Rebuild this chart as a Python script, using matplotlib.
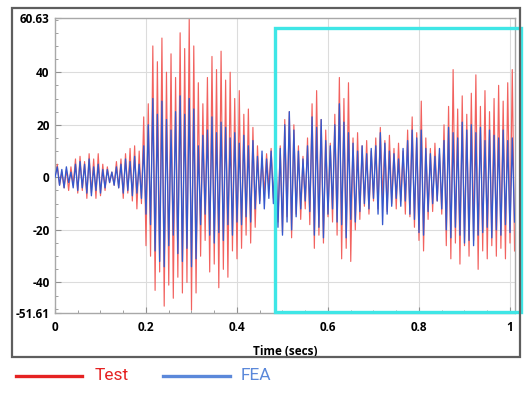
import matplotlib
matplotlib.use("Agg")
import matplotlib.pyplot as plt
import matplotlib.patches as mpatches
from matplotlib.lines import Line2D
from matplotlib.ticker import MultipleLocator
import numpy as np

# ---- data: per-cycle positive / negative peak values (cycle length 0.01 s) ----
test_hi = [5, 2, 3, 4, 7, 8, 6, 9, 7, 9,
           5, 4, 2, 6, 7, 9, 11, 12, 10, 23,
           28, 50, 44, 53, 40, 47, 38, 55, 49, 60.5,
           50, 36, 28, 38, 46, 41, 48, 37, 40, 30,
           33, 24, 26, 19, 12, 7, 9, 11, 8, 12,
           22, 25, 20, 12, 8, 15, 28, 33, 22, 18,
           13, 24, 38, 30, 36, 15, 17, 12, 14, 10,
           15, 19, 14, 16, 11, 13, 10, 18, 23, 17,
           29, 15, 11, 13, 9, 20, 27, 41, 26, 31,
           24, 32, 39, 27, 33, 25, 30, 35, 29, 36, 41]
test_lo = [-3, -4, -5, -3, -6, -5, -8, -6, -8, -7,
           -5, -2, -3, -4, -8, -6, -9, -12, -10, -26,
           -30, -43, -36, -49, -41, -46, -38, -44, -40, -50.5,
           -44, -30, -24, -36, -33, -42, -35, -38, -28, -31,
           -27, -22, -25, -19, -9, -6, -4, -8, -17, -21,
           -15, -23, -14, -16, -12, -18, -27, -22, -25, -15,
           -17, -22, -31, -27, -32, -20, -16, -11, -14, -9,
           -12, -8, -13, -10, -12, -9, -14, -15, -19, -24,
           -28, -16, -13, -9, -14, -26, -31, -25, -33, -26,
           -30, -24, -35, -28, -31, -26, -30, -27, -31, -25, -28]
fea_hi = [4, 3, 4, 2, 5, 6, 5, 7, 4, 5,
          3, 3, 2, 4, 5, 7, 6, 8, 5, 12,
          20, 30, 24, 29, 22, 18, 25, 31, 24, 30,
          26, 12, 16, 18, 23, 17, 21, 19, 15, 17,
          13, 16, 12, 14, 8, 10, 7, 10, 13, 11,
          20, 25, 18, 10, 7, 12, 23, 19, 22, 14,
          12, 20, 28, 21, 17, 13, 10, 12, 9, 11,
          12, 17, 13, 10, 9, 7, 11, 14, 18, 15,
          18, 11, 9, 8, 11, 14, 19, 17, 15, 21,
          18, 20, 17, 19, 14, 18, 16, 15, 18, 14, 15]
fea_lo = [-3, -4, -2, -4, -5, -4, -6, -7, -5, -6,
          -4, -2, -3, -4, -6, -5, -7, -6, -8, -14,
          -18, -28, -32, -34, -26, -22, -29, -32, -27, -34,
          -31, -18, -14, -22, -25, -21, -24, -18, -22, -17,
          -18, -15, -17, -12, -10, -12, -8, -10, -19, -22,
          -17, -20, -15, -12, -9, -13, -22, -19, -23, -14,
          -12, -17, -18, -23, -16, -17, -13, -10, -12, -8,
          -14, -18, -14, -11, -8, -11, -9, -14, -16, -21,
          -22, -13, -10, -9, -12, -20, -23, -19, -22, -25,
          -24, -26, -22, -21, -19, -23, -20, -22, -18, -21, -17]

x_ticks = [0, 0.2, 0.4, 0.6, 0.8, 1]
x_ticklabels = ["0", "0.2", "0.4", "0.6", "0.8", "1"]
y_ticks = [-51.61, -40, -20, 0, 20, 40, 60.63]
y_ticklabels = ["-51.61", "-40", "-20", "0", "20", "40", "60.63"]
x_label = "Time (secs)"
series_names = ["Test", "FEA"]
highlight_x = [0.484, 1.0235]
highlight_y = [-51.1, 57.0]

# ---- build alternating peak sequences ----
def seq(hi, lo):
    vals = [0.0]
    for h, l in zip(hi, lo):
        vals.append(h)
        vals.append(l)
    vals = np.array(vals, dtype=float)
    t = np.arange(len(vals)) * 0.005
    return t, vals

t_test, v_test = seq(test_hi, test_lo)
t_fea, v_fea = seq(fea_hi, fea_lo)

W, H = 525, 396
fig = plt.figure(figsize=(W / 100, H / 100), dpi=100)

# outer frame
frame = mpatches.Rectangle((12 / W, 1 - 357 / H), 508 / W, 349 / H,
                           transform=fig.transFigure, fill=False,
                           edgecolor="#5e5e5e", linewidth=1.6)
fig.patches.append(frame)

ax = fig.add_axes([55 / W, 1 - 313 / H, 460 / W, 295 / H])
red = "#f2625f"
blue = "#3558cc"
ax.plot(t_test, v_test, color=red, lw=0.85, zorder=2)
ax.plot(t_fea, v_fea, color=blue, lw=0.95, zorder=3)

ax.set_xlim(0, 1.011)
ax.set_ylim(-51.61, 60.63)

font = ["Open Sans", "DejaVu Sans"]
ax.set_xticks(x_ticks)
ax.set_xticklabels(x_ticklabels, fontfamily=font, fontweight="bold", fontsize=8.5)
ax.set_yticks(y_ticks)
ax.set_yticklabels(y_ticklabels, fontfamily=font, fontweight="bold", fontsize=8.5)
ax.xaxis.set_minor_locator(MultipleLocator(0.05))
ax.yaxis.set_minor_locator(MultipleLocator(5))
ax.tick_params(axis="both", which="both", direction="in", color="#909090")
ax.tick_params(axis="both", which="major", length=4, width=0.8, pad=4)
ax.tick_params(axis="both", which="minor", length=2.5, width=0.6)
ax.tick_params(axis="x", pad=6)

for v in [0.2, 0.4, 0.6, 0.8, 1.0]:
    ax.axvline(v, color="#dcdcdc", lw=0.8, zorder=0)
for v in [-40, -20, 0, 20, 40]:
    ax.axhline(v, color="#dcdcdc", lw=0.8, zorder=0)

for s in ax.spines.values():
    s.set_color("#a8a8a8")
    s.set_linewidth(1.0)

ax.set_xlabel(x_label, fontfamily=font, fontweight="bold", fontsize=8.5, labelpad=8)

rect = mpatches.Rectangle((highlight_x[0], highlight_y[0]),
                          highlight_x[1] - highlight_x[0],
                          highlight_y[1] - highlight_y[0],
                          fill=False, edgecolor="#3fe6e6", linewidth=2.4,
                          clip_on=False, zorder=5)
ax.add_patch(rect)

# legend below the chart
ly = 1 - 376 / H
fig.add_artist(Line2D([16 / W, 82 / W], [ly, ly], transform=fig.transFigure,
                      color="#e52222", lw=2.4))
fig.text(95 / W, ly, series_names[0], color="#e52222", fontsize=12.5,
         fontfamily="Roboto", va="center", ha="left")
fig.add_artist(Line2D([163 / W, 230 / W], [ly, ly], transform=fig.transFigure,
                      color="#5b88da", lw=2.4))
fig.text(241 / W, ly, series_names[1], color="#5b88da", fontsize=12.5,
         fontfamily="Roboto", va="center", ha="left")

fig.savefig("out.png", dpi=100)
